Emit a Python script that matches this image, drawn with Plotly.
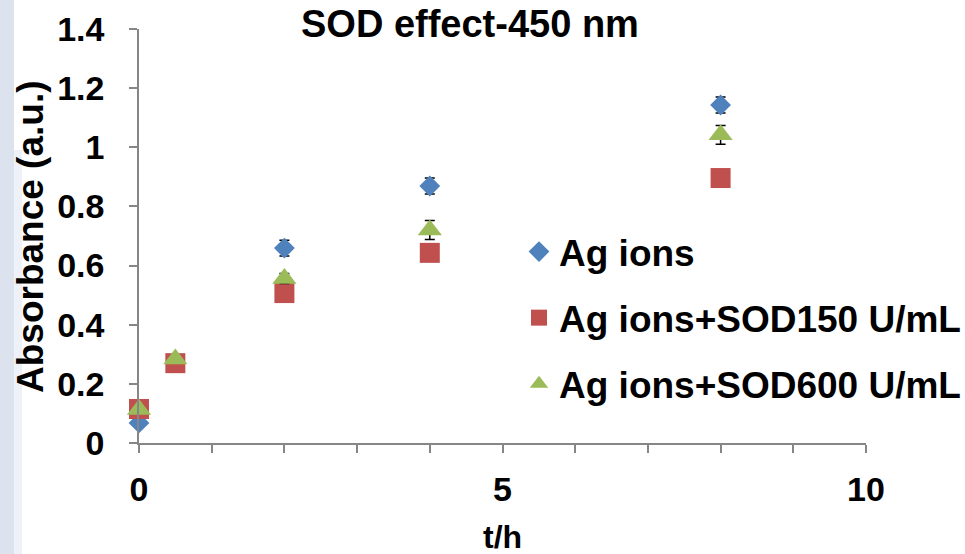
import plotly.graph_objects as go

# ---- data ----
t_ag = [0, 2, 4, 8]
abs_ag = [0.068, 0.659, 0.869, 1.143]
err_ag = [0.01, 0.027, 0.027, 0.027]

t_150 = [0, 0.5, 2, 4, 8]
abs_150 = [0.115, 0.27, 0.507, 0.643, 0.896]
err_150 = [0.01, 0.01, 0.01, 0.01, 0.01]

t_600 = [0, 0.5, 2, 4, 8]
abs_600 = [0.113, 0.284, 0.556, 0.72, 1.042]
err_600 = [0.01, 0.01, 0.017, 0.032, 0.032]

names = ["Ag ions", "Ag ions+SOD150 U/mL", "Ag ions+SOD600 U/mL"]
y_ticks = [0, 0.2, 0.4, 0.6, 0.8, 1.0, 1.2, 1.4]
y_ticktext = ["0", "0.2", "0.4", "0.6", "0.8", "1", "1.2", "1.4"]
x_ticks = [0, 5, 10]
title_text = "SOD effect-450 nm"
x_title = "t/h"
y_title = "Absorbance (a.u.)"

W, H = 965, 554
L, R, T, B = 139, 99, 29, 111

FONT = "Liberation Sans, Arial, sans-serif"

fig = go.Figure()

def add(x, y, e, name, color, symbol, size, group):
    fig.add_trace(go.Scatter(
        x=x, y=y, mode="markers", name=name, legendgroup=group,
        marker=dict(color=color, symbol=symbol, size=size, line=dict(width=0)),
        error_y=dict(type="data", array=e, visible=True, color="black",
                     thickness=1.5, width=5),
        cliponaxis=False,
    ))

add(t_ag, abs_ag, err_ag, names[0], "#4F81BD", "diamond", 16, "a")
add(t_150, abs_150, err_150, names[1], "#C0504D", "square", 20, "b")
add(t_600, abs_600, err_600, names[2], "#9BBB59", "triangle-up", 21, "c")

def px_x(p):
    return (p - L) / (W - L - R)

def px_y(p):
    return 1 - (p - T) / (H - T - B)

shapes = [
    dict(type="rect", xref="paper", yref="paper",
         x0=px_x(0), x1=px_x(14), y0=px_y(554), y1=px_y(0),
         fillcolor="#DCE3EF", line=dict(width=0), layer="below"),
    dict(type="rect", xref="paper", yref="paper",
         x0=px_x(14), x1=px_x(22), y0=px_y(554), y1=px_y(150),
         fillcolor="#EEF2F8", line=dict(width=0), layer="below"),
]

axis_common = dict(
    showgrid=False, zeroline=False, automargin=False,
    showline=True, linecolor="#868686", linewidth=1.5,
    ticks="outside", ticklen=8, tickcolor="#868686", tickwidth=1.5,
    tickfont=dict(size=34, weight="bold"),
)

fig.update_layout(
    width=W, height=H,
    margin=dict(l=L, r=R, t=T, b=B, pad=0, autoexpand=False),
    paper_bgcolor="white", plot_bgcolor="white",
    font=dict(family=FONT, color="black", size=32),
    shapes=shapes,
    showlegend=True,
    legend=dict(
        x=px_x(519), y=px_y(221), xanchor="left", yanchor="top",
        font=dict(family=FONT, size=37, color="black", weight="bold"),
        bgcolor="rgba(0,0,0,0)", tracegroupgap=15, itemwidth=30,
    ),
    xaxis=dict(
        range=[0, 10], tickvals=x_ticks,
        minor=dict(dtick=1, ticks="outside", ticklen=8, tickcolor="#868686", tickwidth=1.5),
        ticklabelstandoff=7,
        **axis_common,
    ),
    yaxis=dict(
        range=[0, 1.4], tickvals=y_ticks, ticktext=y_ticktext,
        ticklabelstandoff=18,
        **axis_common,
    ),
    annotations=[
        dict(text="<b>" + title_text + "</b>", xref="paper", yref="paper",
             x=px_x(470), y=px_y(1), yanchor="top", xanchor="center",
             showarrow=False, font=dict(family=FONT, size=38, color="black")),
        dict(text="<b>" + x_title + "</b>", xref="paper", yref="paper",
             x=px_x(502), y=px_y(537), yanchor="middle", xanchor="center",
             showarrow=False, font=dict(family=FONT, size=32, color="black")),
        dict(text="<b>" + y_title + "</b>", xref="paper", yref="paper",
             x=px_x(30), y=px_y(237), yanchor="middle", xanchor="center",
             textangle=-90,
             showarrow=False, font=dict(family=FONT, size=37, color="black")),
    ],
)

fig.write_html("out.html", config={"displayModeBar": False},
               post_script="document.body.style.margin='0';")
